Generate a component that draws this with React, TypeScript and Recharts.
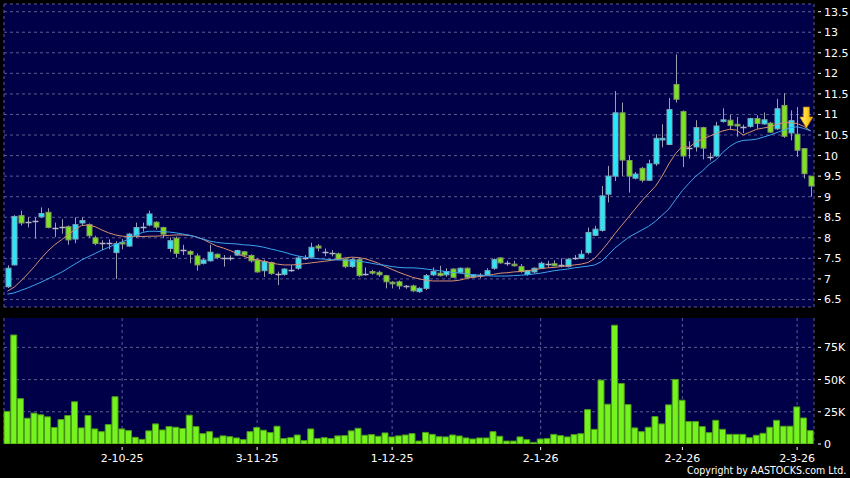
import {
  ComposedChart,
  Bar,
  Line,
  XAxis,
  YAxis,
  CartesianGrid,
  ReferenceDot,
} from "recharts";

// daily OHLC
const open = [
  6.81, 7.34, 8.54, 8.37, 8.4, 8.51, 8.62, 8.25, 8.25, 8.27,
  7.97, 8.36, 8.32, 8.0, 7.86, 7.87, 7.64, 7.89, 7.8, 8.05,
  8.25, 8.31, 8.38, 8.25, 7.74, 7.99, 7.72, 7.67, 7.56, 7.38,
  7.44, 7.6, 7.5, 7.5, 7.58, 7.66, 7.57, 7.46, 7.2, 7.4,
  7.13, 7.11, 7.22, 7.26, 7.51, 7.53, 7.8, 7.66, 7.63, 7.61,
  7.48, 7.3, 7.47, 7.12, 7.18, 7.16, 7.08, 6.92, 6.93, 6.83,
  6.83, 6.69, 6.77, 7.1, 7.14, 7.1, 7.24, 7.16, 7.26, 7.05,
  7.08, 7.1, 7.26, 7.51, 7.38, 7.36, 7.3, 7.11, 7.17, 7.26,
  7.35, 7.37, 7.34, 7.3, 7.5, 7.5, 7.64, 8.06, 8.18, 9.06,
  9.5, 11.04, 9.88, 9.45, 9.69, 9.4, 9.8, 10.38, 10.27, 11.73,
  11.07, 10.2, 10.21, 10.68, 9.99, 9.99, 10.83, 10.86, 10.76, 10.7,
  10.71, 10.9, 10.77, 10.79, 10.65, 11.22, 10.55, 10.52, 10.17, 9.5,
];
const high = [
  7.33, 8.55, 8.66, 8.5, 8.5, 8.74, 8.72, 8.37, 8.45, 8.3,
  8.5, 8.5, 8.35, 8.05, 7.94, 7.96, 7.92, 7.97, 8.12, 8.37,
  8.37, 8.66, 8.4, 8.27, 8.01, 8.03, 7.83, 7.7, 7.62, 7.5,
  7.83, 7.62, 7.58, 7.57, 7.71, 7.68, 7.6, 7.5, 7.47, 7.42,
  7.18, 7.26, 7.34, 7.55, 7.58, 7.88, 7.85, 7.74, 7.7, 7.64,
  7.5, 7.5, 7.5, 7.28, 7.22, 7.2, 7.1, 6.95, 6.96, 6.85,
  6.86, 6.8, 7.12, 7.28, 7.32, 7.26, 7.26, 7.28, 7.28, 7.12,
  7.14, 7.26, 7.5, 7.53, 7.44, 7.44, 7.36, 7.22, 7.28, 7.42,
  7.44, 7.45, 7.5, 7.5, 7.58, 7.7, 8.25, 8.29, 9.26, 9.75,
  11.57, 11.29, 10.0, 9.6, 9.72, 9.9, 10.52, 10.76, 11.4, 12.46,
  11.1, 10.35, 10.86, 10.7, 10.07, 10.82, 11.15, 10.99, 10.94, 10.75,
  10.92, 10.98, 11.05, 10.82, 11.38, 11.52, 11.1, 11.18, 10.18, 9.5,
];
const low = [
  6.78, 7.33, 8.3, 8.25, 7.98, 8.48, 8.23, 8.02, 8.1, 7.83,
  7.87, 8.3, 8.0, 7.82, 7.7, 7.72, 7.0, 7.72, 7.78, 8.0,
  8.15, 8.28, 8.2, 7.99, 7.65, 7.52, 7.58, 7.38, 7.2, 7.35,
  7.42, 7.48, 7.3, 7.44, 7.56, 7.55, 7.4, 7.15, 7.05, 7.1,
  6.85, 7.08, 7.17, 7.22, 7.46, 7.5, 7.67, 7.55, 7.55, 7.46,
  7.26, 7.27, 7.05, 7.08, 7.1, 7.05, 6.77, 6.77, 6.75, 6.76,
  6.68, 6.66, 6.73, 7.07, 7.06, 7.05, 7.02, 7.14, 7.02, 7.02,
  7.02, 7.08, 7.22, 7.37, 7.32, 7.3, 7.15, 7.08, 7.14, 7.24,
  7.28, 7.3, 7.28, 7.28, 7.46, 7.48, 7.6, 8.04, 8.15, 8.86,
  9.38, 9.5, 9.1, 9.42, 9.35, 9.38, 9.75, 10.2, 10.25, 11.29,
  9.72, 9.93, 10.1, 9.91, 9.88, 9.97, 10.8, 10.62, 10.46, 10.55,
  10.68, 10.65, 10.75, 10.55, 10.62, 10.43, 10.37, 9.97, 9.44, 9.0,
];
const close = [
  7.26, 8.52, 8.36, 8.4, 8.4, 8.59, 8.25, 8.25, 8.27, 7.95,
  8.32, 8.42, 8.05, 7.86, 7.87, 7.9, 7.86, 7.85, 8.09, 8.25,
  8.27, 8.58, 8.26, 8.09, 7.93, 7.62, 7.69, 7.6, 7.34, 7.46,
  7.65, 7.52, 7.5, 7.5, 7.69, 7.58, 7.44, 7.17, 7.42, 7.13,
  7.1, 7.24, 7.22, 7.51, 7.53, 7.77, 7.75, 7.65, 7.61, 7.48,
  7.3, 7.47, 7.08, 7.14, 7.14, 7.1, 6.93, 6.88, 6.83, 6.81,
  6.71, 6.77, 7.08, 7.18, 7.08, 7.18, 7.04, 7.26, 7.04, 7.1,
  7.09, 7.2, 7.47, 7.39, 7.39, 7.32, 7.18, 7.2, 7.26, 7.38,
  7.36, 7.32, 7.36, 7.48, 7.53, 7.6, 8.13, 8.21, 9.02, 9.5,
  11.04, 9.89, 9.5, 9.55, 9.4, 9.8, 10.42, 10.42, 11.12, 11.37,
  9.99, 10.18, 10.68, 10.18, 9.96, 10.72, 10.87, 10.73, 10.72, 10.68,
  10.9, 10.78, 10.87, 10.57, 11.14, 10.47, 10.85, 10.13, 9.56, 9.26,
];
// volume in thousands of shares
const volume = [
  25.3, 84.6, 35.2, 20, 24, 22.7, 21.1, 12.8, 19, 22.1,
  32.8, 12.5, 22.1, 11.7, 9.6, 15.1, 36.7, 11.7, 10.4, 5.2,
  3.6, 10.2, 15.6, 10.9, 13.5, 13, 12, 22.4, 13.5, 8.1,
  9.6, 4.7, 6.3, 5.7, 4.7, 3.4, 9.6, 12.8, 10.7, 8.9,
  13.8, 4.2, 4.9, 7, 2.6, 11.7, 4.2, 4.9, 4.2, 6.3,
  6.5, 10.2, 12.2, 6.8, 7.3, 6, 8.6, 5.5, 6.3, 7,
  8.1, 2.3, 9, 7.5, 5.7, 5.5, 7, 6.2, 4.7, 3.9,
  4.7, 4.7, 9.6, 6, 2.3, 2.3, 5.5, 3.4, 1.3, 3.9,
  4.2, 7.5, 6.5, 5.5, 7.3, 8, 26.7, 11.4, 49.6, 30.9,
  92.2, 47, 30.6, 12.5, 9.6, 13, 21.3, 15.6, 30.4, 50.1,
  34, 17.4, 17.4, 13.5, 8.8, 18.4, 11.4, 7.5, 7.5, 7.5,
  4.9, 6.8, 8.3, 13, 18.4, 13.8, 13.8, 28.8, 20.2, 10.4,
];
// moving averages as drawn (short = orange, long = blue)
const maShort = [
  6.7, 6.8, 6.95, 7.12, 7.3, 7.5, 7.68, 7.83, 7.95, 8.08,
  8.2, 8.3, 8.31, 8.27, 8.19, 8.12, 8.07, 8.04, 8.03, 8.03,
  8.03, 8.04, 8.04, 8.05, 8.06, 8.07, 8.07, 8.06, 8.02, 7.96,
  7.88, 7.8, 7.75, 7.69, 7.62, 7.55, 7.5, 7.46, 7.43, 7.39,
  7.36, 7.34, 7.34, 7.35, 7.37, 7.39, 7.41, 7.43, 7.45, 7.48,
  7.51, 7.53, 7.52, 7.49, 7.44, 7.38, 7.3, 7.23, 7.16, 7.1,
  7.04, 7.0, 6.97, 6.95, 6.95, 6.95, 6.95, 6.97, 7.01, 7.04,
  7.06, 7.08, 7.11, 7.14, 7.15, 7.17, 7.18, 7.2, 7.22, 7.25,
  7.27, 7.28, 7.3, 7.32, 7.34, 7.36, 7.4, 7.5, 7.68, 7.88,
  8.1, 8.3, 8.5, 8.7, 8.9, 9.08, 9.25, 9.5, 9.8, 10.05,
  10.23, 10.2, 10.33, 10.4, 10.47, 10.54, 10.6, 10.64, 10.62, 10.5,
  10.57, 10.64, 10.67, 10.7, 10.76, 10.8, 10.8, 10.78, 10.71, 10.6,
];
const maLong = [
  6.63, 6.66, 6.72, 6.78, 6.85, 6.92, 7.0, 7.08, 7.16, 7.26,
  7.36, 7.46, 7.54, 7.62, 7.7, 7.77, 7.84, 7.9, 7.97, 8.06,
  8.13, 8.16, 8.16, 8.15, 8.14, 8.12, 8.09, 8.06, 8.02, 7.97,
  7.92, 7.89, 7.87, 7.86, 7.85, 7.83, 7.82, 7.8, 7.77, 7.73,
  7.69, 7.65, 7.6, 7.56, 7.53, 7.51, 7.49, 7.48, 7.47, 7.46,
  7.46, 7.44, 7.43, 7.41, 7.38, 7.35, 7.33, 7.3, 7.28, 7.27,
  7.27, 7.26, 7.24, 7.22, 7.2, 7.18, 7.16, 7.14, 7.12, 7.1,
  7.09, 7.08, 7.07, 7.07, 7.07, 7.08, 7.09, 7.1, 7.12, 7.14,
  7.17, 7.2, 7.22, 7.24, 7.27, 7.29, 7.31, 7.34, 7.42, 7.58,
  7.75, 7.88, 8.01, 8.1, 8.19, 8.28, 8.4, 8.55, 8.7, 8.93,
  9.15, 9.33, 9.5, 9.63, 9.79, 9.9, 10.08, 10.22, 10.32, 10.37,
  10.38, 10.4, 10.45, 10.5, 10.56, 10.62, 10.68, 10.7, 10.66, 10.6,
];

const tickIdx = [17, 37, 57, 79, 100, 117];
const tickLabels = ["2-10-25", "3-11-25", "1-12-25", "2-1-26", "2-2-26", "2-3-26"];
const priceTicks = [6.5, 7, 7.5, 8, 8.5, 9, 9.5, 10, 10.5, 11, 11.5, 12, 12.5, 13, 13.5];
const volTicks = [0, 25000, 50000, 75000];
const signal = { idx: 118, price: 10.67 };

const rows = open.map((o, i) => ({
  i,
  o,
  h: high[i],
  l: low[i],
  c: close[i],
  v: volume[i] * 1000,
  maShort: maShort[i],
  maLong: maLong[i],
}));

const FONT = "DejaVu Sans, Verdana, sans-serif";
const BG = "#000048";
const GRID = "#5c5c94";

function Candle(props: any) {
  const { x, y, width, height, payload } = props;
  const { o, h, l, c } = payload;
  const ht = Math.abs(height);
  const top = height < 0 ? y + height : y;
  const k = h > l ? ht / (h - l) : 0;
  const cx = Math.round(x + width / 2) + 0.5;
  const bodyTop = top + (h - Math.max(o, c)) * k;
  const bodyH = Math.abs(o - c) * k;
  const wick = "#9c9eb4";
  if (bodyH < 1.6) {
    const my = Math.round(bodyTop + bodyH / 2) + 0.5;
    return (
      <g>
        <line x1={cx} x2={cx} y1={top} y2={top + ht} stroke={wick} />
        <line x1={cx - 3} x2={cx + 3} y1={my} y2={my} stroke="#b4b6c4" strokeWidth={1.5} />
      </g>
    );
  }
  const up = c >= o;
  return (
    <g>
      <line x1={cx} x2={cx} y1={top} y2={top + ht} stroke={wick} />
      <rect
        x={cx - 2.5}
        y={bodyTop}
        width={5}
        height={bodyH}
        fill={up ? "#2ae6f6" : "#7ce41e"}
        stroke={up ? "#78a8b8" : "#809a60"}
        strokeWidth={1}
      />
    </g>
  );
}

function Arrow(props: any) {
  const { cx, cy } = props;
  const x = cx + 2.5;
  return (
    <g>
      <defs>
        <linearGradient id='arrowFill' x1='0' x2='1' y1='0' y2='0'>
          <stop offset='0' stopColor='#fff090' />
          <stop offset='0.5' stopColor='#ffd42a' />
          <stop offset='1' stopColor='#f0a800' />
        </linearGradient>
      </defs>
      <path
        d={`M${x - 3},${cy - 21} h6 v10 h3.5 L${x},${cy} L${x - 6.5},${cy - 11} h3.5 Z`}
        fill='url(#arrowFill)'
        stroke='#c08800'
        strokeWidth={0.7}
      />
    </g>
  );
}

function RightTick(props: any) {
  const { x, y, payload, fmt } = props;
  return (
    <g>
      <line x1={x + 4} x2={x + 7} y1={y} y2={y} stroke='#ffffff' />
      <text x={x + 10} y={y + 4} fill='#ffffff' fontSize={11} fontFamily={FONT}>
        {fmt(payload.value)}
      </text>
    </g>
  );
}

function DateTick(props: any) {
  const { x, y, payload } = props;
  const label = tickLabels[tickIdx.indexOf(payload.value)];
  return (
    <g>
      <line x1={x} x2={x} y1={y + 3} y2={y + 6} stroke='#ffffff' />
      <text x={x} y={y + 18} fill='#ffffff' fontSize={11} fontFamily={FONT} textAnchor='middle'>
        {label}
      </text>
    </g>
  );
}

export default function App() {
  return (
    <div style={{ width: 850, height: 478, background: "#000", position: "relative" }}>
      <style>{"body{margin:0;background:#000}"}</style>

      <ComposedChart width={850} height={312} data={rows} margin={{ top: 4, right: 0, bottom: 5, left: 4 }}>
        <CartesianGrid stroke={GRID} strokeDasharray='3 3' fill={BG} />
        <XAxis dataKey='i' ticks={tickIdx} interval={0} height={0} tick={false} axisLine={false} tickLine={false} />
        <YAxis
          orientation='right'
          width={36}
          domain={[6.317, 13.687]}
          ticks={priceTicks}
          interval={0}
          allowDataOverflow
          axisLine={false}
          tickLine={false}
          tickSize={0}
          tickMargin={0}
          tick={<RightTick fmt={(v: number) => String(v)} />}
        />
        <Line dataKey='maShort' stroke='#d8906e' strokeWidth={1} dot={false} isAnimationActive={false} />
        <Line dataKey='maLong' stroke='#3ca6ee' strokeWidth={1} dot={false} isAnimationActive={false} />
        <Bar dataKey={(d: any) => [d.l, d.h]} shape={Candle} barSize={5} isAnimationActive={false} />
        <ReferenceDot x={signal.idx} y={signal.price} shape={Arrow} />
      </ComposedChart>

      <ComposedChart width={850} height={166} data={rows} margin={{ top: 6, right: 0, bottom: 0, left: 4 }}>
        <CartesianGrid stroke={GRID} strokeDasharray='3 3' fill={BG} horizontalValues={[25000, 50000, 75000]} />
        <XAxis
          dataKey='i'
          ticks={tickIdx}
          interval={0}
          height={34}
          axisLine={false}
          tickLine={false}
          tickSize={0}
          tickMargin={0}
          tick={<DateTick />}
        />
        <YAxis
          orientation='right'
          width={36}
          domain={[0, 97800]}
          ticks={volTicks}
          interval={0}
          allowDataOverflow
          axisLine={false}
          tickLine={false}
          tickSize={0}
          tickMargin={0}
          tick={<RightTick fmt={(v: number) => (v === 0 ? "0" : v / 1000 + "K")} />}
        />
        <Bar dataKey='v' fill='#76f21e' stroke='#4a9a18' strokeWidth={1} barSize={6} isAnimationActive={false} />
      </ComposedChart>

      <div
        style={{
          position: "absolute",
          right: 4,
          top: 464,
          color: "#fff",
          fontFamily: FONT,
          fontSize: 11,
          lineHeight: "13px",
          whiteSpace: "nowrap",
          transform: "scaleX(0.86)",
          transformOrigin: "right center",
        }}
      >
        Copyright by AASTOCKS.com Ltd.
      </div>
    </div>
  );
}
